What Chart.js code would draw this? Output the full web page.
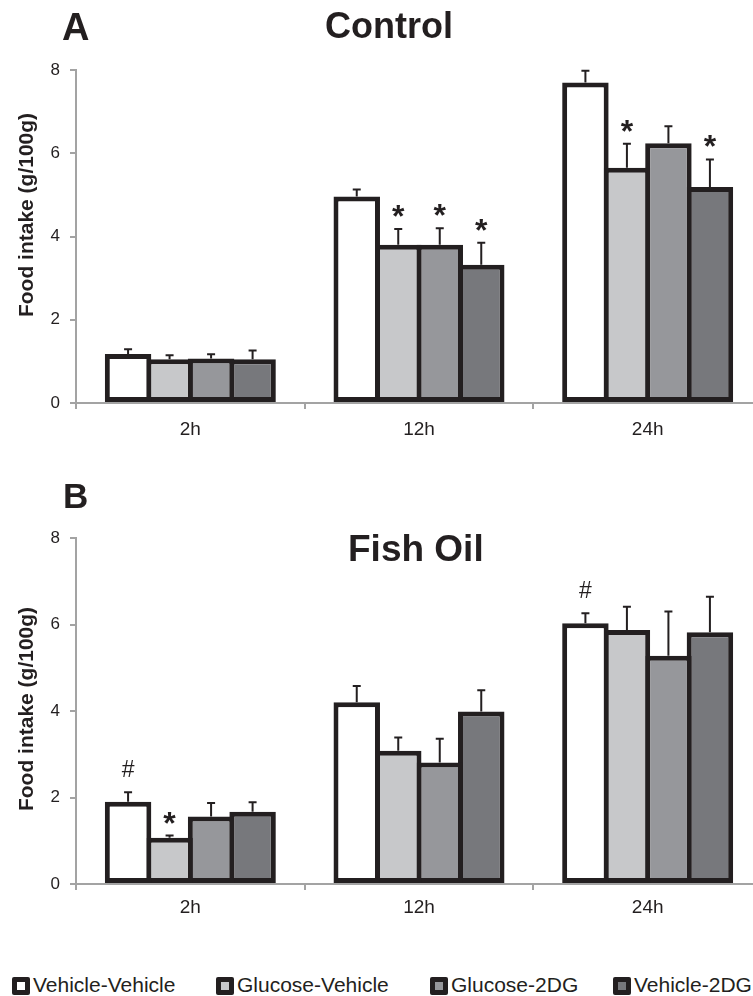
<!DOCTYPE html>
<html lang="en">
<head>
<meta charset="UTF-8">
<title>Food intake</title>
<script src="https://cdn.jsdelivr.net/npm/chart.js"></script>
<style>
    html, body {
        margin: 0;
        padding: 0;
        background: #fff;
        width: 753px;
        height: 996px;
        overflow: hidden;
    }
    body {
        position: relative;
        font-family: "Liberation Sans", Arial, Helvetica, sans-serif;
        color: #231f20;
    }
    .panel {
        position: absolute;
        left: 0;
        width: 770px;
        height: 460px;
    }
    .txt {
        position: absolute;
        line-height: 1;
        white-space: nowrap;
        font-weight: bold;
    }
    .ytitle {
        position: absolute;
        font-weight: bold;
        font-size: 21px;
        line-height: 1;
        white-space: nowrap;
        transform: translate(-50%, -50%) rotate(-90deg);
    }
    .item {
        position: absolute;
        top: 974px;
        display: flex;
        align-items: flex-start;
        font-size: 21px;
        line-height: 1;
        white-space: nowrap;
    }
    .sw {
        position: relative;
        width: 18px;
        height: 18px;
        margin-top: 3px;
        margin-right: 3px;
        background: #231f20;
        border-radius: 2px;
    }
    .sw i {
        position: absolute;
        left: 5px;
        top: 5px;
        width: 8px;
        height: 8px;
    }
</style>
</head>
<body>
    <div class="panel" style="top:0"><canvas id="controlChart"></canvas></div>
    <div class="panel" style="top:470px"><canvas id="fishChart"></canvas></div>

    <div class="txt" style="left:62px; top:8px; font-size:38px">A</div>
    <div class="txt" style="left:325px; top:8px; font-size:36px">Control</div>
    <div class="txt" style="left:63px; top:478px; font-size:35px">B</div>
    <div class="txt" style="left:348px; top:530px; font-size:37px">Fish Oil</div>

    <div class="ytitle" style="left:25px; top:215px">Food intake (g/100g)</div>
    <div class="ytitle" style="left:25px; top:709px">Food intake (g/100g)</div>

    <div id="legend"></div>

    <script>
        // categories / series
        const groups = ['2h', '12h', '24h'];
        const seriesNames = ['Vehicle-Vehicle', 'Glucose-Vehicle', 'Glucose-2DG', 'Vehicle-2DG'];
        const yTicks = [0, 2, 4, 6, 8];

        // Control (panel A): means and SEM
        const ctrlVehVeh = [1.18, 4.96, 7.70];
        const ctrlGluVeh = [1.05, 3.80, 5.65];
        const ctrlGlu2DG = [1.07, 3.80, 6.24];
        const ctrlVeh2DG = [1.05, 3.32, 5.19];
        const ctrlVehVehErr = [0.11, 0.17, 0.28];
        const ctrlGluVehErr = [0.10, 0.38, 0.58];
        const ctrlGlu2DGErr = [0.10, 0.40, 0.41];
        const ctrlVeh2DGErr = [0.21, 0.53, 0.66];
        const ctrlVehVehMark = ['', '', ''];
        const ctrlGluVehMark = ['', '*', '*'];
        const ctrlGlu2DGMark = ['', '*', ''];
        const ctrlVeh2DGMark = ['', '*', '*'];

        // Fish oil (panel B)
        const fishVehVeh = [1.90, 4.20, 6.03];
        const fishGluVeh = [1.07, 3.08, 5.87];
        const fishGlu2DG = [1.56, 2.81, 5.28];
        const fishVeh2DG = [1.67, 3.99, 5.82];
        const fishVehVehErr = [0.22, 0.38, 0.23];
        const fishGluVehErr = [0.05, 0.31, 0.54];
        const fishGlu2DGErr = [0.31, 0.55, 1.02];
        const fishVeh2DGErr = [0.22, 0.49, 0.82];
        const fishVehVehMark = ['#', '', '#'];
        const fishGluVehMark = ['*', '', ''];
        const fishGlu2DGMark = ['', '', ''];
        const fishVeh2DGMark = ['', '', ''];

        const fills = ['#ffffff', '#c7c8ca', '#96979b', '#77787c'];
        const ink = '#231f20';
        const axisGray = '#a3a3a3';

        // error bars (upper only) + significance marks
        const errorBars = {
            id: 'errorBars',
            afterDatasetsDraw(chart) {
                const ctx = chart.ctx;
                const y = chart.scales.y;
                ctx.save();
                chart.data.datasets.forEach((ds, i) => {
                    const meta = chart.getDatasetMeta(i);
                    meta.data.forEach((bar, j) => {
                        const capY = y.getPixelForValue(ds.data[j] + ds.errors[j]);
                        ctx.strokeStyle = ink;
                        ctx.lineWidth = 2;
                        ctx.beginPath();
                        ctx.moveTo(bar.x, bar.y);
                        ctx.lineTo(bar.x, capY);
                        ctx.moveTo(bar.x - 4, capY);
                        ctx.lineTo(bar.x + 4, capY);
                        ctx.stroke();

                        const mark = ds.marks[j];
                        if (!mark) return;
                        ctx.fillStyle = ink;
                        ctx.textAlign = 'center';
                        ctx.textBaseline = 'alphabetic';
                        if (mark === '*') {
                            ctx.font = 'bold 32px "Liberation Sans", Arial, sans-serif';
                        } else {
                            ctx.font = '23px "Liberation Sans", Arial, sans-serif';
                        }
                        const m = ctx.measureText(mark);
                        const gap = mark === '*' ? 12 : 15;
                        ctx.fillText(mark, bar.x, capY - gap - m.actualBoundingBoxDescent);
                    });
                });
                ctx.restore();
            }
        };

        function makeChart(id, values, errors, marks, padTop, xHeight, xPad) {
            new Chart(document.getElementById(id), {
                type: 'bar',
                data: {
                    labels: groups,
                    datasets: seriesNames.map((name, i) => ({
                        label: name,
                        data: values[i],
                        errors: errors[i],
                        marks: marks[i],
                        backgroundColor: fills[i],
                        borderColor: ink,
                        borderWidth: 5,
                        borderSkipped: false,
                        barPercentage: 1.12,
                        categoryPercentage: 0.726
                    }))
                },
                options: {
                    responsive: true,
                    maintainAspectRatio: false,
                    animation: false,
                    layout: { padding: { top: padTop, right: 8, left: 0, bottom: 0 } },
                    plugins: {
                        legend: { display: false },
                        tooltip: { enabled: false }
                    },
                    scales: {
                        x: {
                            afterFit: (s) => { s.height = xHeight; },
                            grid: {
                                offset: true,
                                drawOnChartArea: false,
                                drawTicks: true,
                                tickLength: 6,
                                color: axisGray,
                                lineWidth: 2
                            },
                            border: { display: true, color: axisGray, width: 2 },
                            ticks: {
                                color: ink,
                                padding: xPad,
                                font: { family: '"Liberation Sans", Arial, sans-serif', size: 19 }
                            }
                        },
                        y: {
                            min: yTicks[0],
                            max: yTicks[yTicks.length - 1],
                            afterFit: (s) => { s.width = 76; },
                            afterBuildTicks: (s) => { s.ticks = yTicks.map(v => ({ value: v })); },
                            grid: {
                                drawOnChartArea: false,
                                drawTicks: true,
                                tickLength: 6,
                                color: axisGray,
                                lineWidth: 2
                            },
                            border: { display: true, color: axisGray, width: 2 },
                            ticks: {
                                color: ink,
                                padding: 10,
                                font: { family: '"Liberation Sans", Arial, sans-serif', size: 17 }
                            }
                        }
                    }
                },
                plugins: [errorBars]
            });
        }

        makeChart('controlChart',
            [ctrlVehVeh, ctrlGluVeh, ctrlGlu2DG, ctrlVeh2DG],
            [ctrlVehVehErr, ctrlGluVehErr, ctrlGlu2DGErr, ctrlVeh2DGErr],
            [ctrlVehVehMark, ctrlGluVehMark, ctrlGlu2DGMark, ctrlVeh2DGMark],
            70, 57, 9);

        makeChart('fishChart',
            [fishVehVeh, fishGluVeh, fishGlu2DG, fishVeh2DG],
            [fishVehVehErr, fishGluVehErr, fishGlu2DGErr, fishVeh2DGErr],
            [fishVehVehMark, fishGluVehMark, fishGlu2DGMark, fishVeh2DGMark],
            68, 46, 6);

        // shared legend along the bottom
        const legendX = [12, 216, 430, 613];
        const legend = document.getElementById('legend');
        seriesNames.forEach((name, i) => {
            const item = document.createElement('div');
            item.className = 'item';
            item.style.left = legendX[i] + 'px';
            item.innerHTML = '<span class="sw"><i style="background:' + fills[i] + '"></i></span><span>' + name + '</span>';
            legend.appendChild(item);
        });
    </script>
</body>
</html>
